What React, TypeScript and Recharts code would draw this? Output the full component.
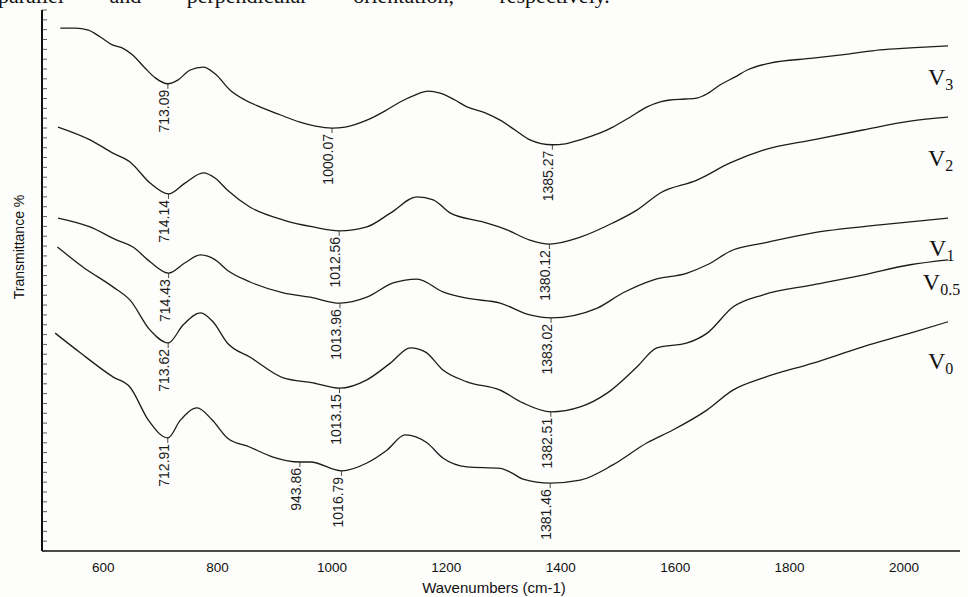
import { LineChart, Line, XAxis, YAxis, ReferenceDot } from "recharts";

// FTIR spectra, wavenumber (cm-1) vs transmittance (curves offset)
const v3Pts = [
  [525, 106.3], [551, 106.3], [574, 105.9], [595, 104.5], [616, 102.9], [633, 102.3],
  [651, 100.9], [673, 98.2], [691, 96.2], [713.09, 95.0], [731, 95.8], [752, 97.8],
  [775, 98.4], [796, 97.0], [822, 93.7], [848, 91.7], [874, 90.3], [909, 88.7],
  [944, 87.2], [971, 86.4], [1000.07, 86.0], [1023, 86.2], [1061, 87.6], [1093, 89.5],
  [1119, 91.3], [1145, 92.7], [1168, 93.5], [1189, 93.1], [1215, 91.7], [1236, 90.3],
  [1268, 89.1], [1294, 87.6], [1320, 85.6], [1346, 83.6], [1385.27, 82.6], [1408, 82.8],
  [1434, 83.6], [1469, 85.0], [1491, 86.2], [1521, 88.2], [1551, 90.3], [1574, 91.3],
  [1591, 91.7], [1617, 91.9], [1638, 92.1], [1658, 93.1], [1679, 94.8], [1705, 96.4],
  [1726, 97.8], [1766, 99.2], [1841, 100.2], [1906, 101.1], [1958, 101.9], [2011, 102.3],
  [2077, 102.7],
];

const v2Pts = [
  [521, 86.2], [577, 83.6], [617, 80.9], [647, 79.1], [682, 74.8], [714.14, 72.6],
  [743, 74.8], [775, 76.9], [796, 75.8], [817, 73.4], [857, 69.9], [915, 67.3],
  [967, 65.9], [1012.56, 65.1], [1061, 65.9], [1102, 68.7], [1149, 72.0], [1177, 71.4],
  [1207, 68.7], [1264, 66.9], [1306, 65.3], [1346, 63.2], [1380.12, 62.4], [1434, 63.8],
  [1491, 66.7], [1533, 69.3], [1574, 72.8], [1638, 75.4], [1696, 78.9], [1754, 81.5],
  [1841, 83.6], [1928, 85.6], [2011, 87.4], [2077, 88.2],
];

const v1Pts = [
  [521, 67.7], [577, 65.9], [624, 63.2], [652, 61.8], [682, 58.8], [714.43, 56.5],
  [743, 58.6], [770, 60.2], [796, 59.2], [817, 57.1], [857, 54.7], [915, 52.5],
  [962, 51.6], [1013.96, 50.4], [1061, 51.6], [1107, 54.5], [1149, 55.3], [1194, 52.7],
  [1236, 51.4], [1294, 50.4], [1346, 48.0], [1383.02, 47.4], [1464, 49.4], [1509, 52.5],
  [1561, 55.1], [1621, 56.5], [1656, 58.2], [1701, 61.2], [1754, 62.6], [1841, 64.7],
  [1958, 66.3], [2077, 67.7],
];

const v05Pts = [
  [520, 61.8], [565, 57.7], [617, 53.7], [647, 51.0], [682, 44.9], [713.62, 42.3],
  [740, 46.0], [770, 48.4], [792, 46.6], [817, 42.3], [857, 39.4], [915, 35.2],
  [967, 34.2], [1013.15, 33.1], [1061, 34.8], [1102, 38.2], [1137, 41.3], [1163, 40.5],
  [1194, 36.8], [1236, 34.4], [1294, 32.7], [1334, 30.1], [1382.51, 28.3], [1434, 29.3],
  [1481, 32.1], [1533, 37.4], [1568, 41.3], [1621, 42.3], [1656, 44.3], [1701, 49.6],
  [1754, 52.1], [1841, 54.1], [1928, 56.1], [2011, 58.2], [2077, 59.2],
];

const v0Pts = [
  [516, 44.3], [560, 40.3], [617, 35.4], [647, 33.3], [679, 26.6], [712.91, 23.0],
  [735, 26.6], [764, 29.1], [791, 26.6], [817, 23.0], [857, 21.1], [897, 19.1],
  [943.86, 18.1], [962, 18.1], [1016.79, 16.3], [1061, 17.9], [1096, 20.5], [1128, 23.6],
  [1166, 22.0], [1194, 18.9], [1236, 17.1], [1294, 16.8], [1314, 15.9], [1334, 14.6],
  [1381.46, 13.8], [1434, 14.4], [1491, 17.5], [1551, 22.0], [1596, 24.6], [1656, 28.7],
  [1701, 32.7], [1754, 35.2], [1841, 38.2], [1928, 41.5], [2011, 44.3], [2077, 46.6],
];

// annotated band minima
const peaksV3 = [713.09, 1000.07, 1385.27];
const peaksV2 = [714.14, 1012.56, 1380.12];
const peaksV1 = [714.43, 1013.96, 1383.02];
const peaksV05 = [713.62, 1013.15, 1382.51];
const peaksV0 = [712.91, 943.86, 1016.79, 1381.46];

const xTicks = [600, 800, 1000, 1200, 1400, 1600, 1800, 2000];

const toRows = (pts: number[][]) => pts.map(([wn, t]) => ({ wn, t }));

const series = [
  { id: "V3", sub: "3", rows: toRows(v3Pts), peaks: peaksV3 },
  { id: "V2", sub: "2", rows: toRows(v2Pts), peaks: peaksV2 },
  { id: "V1", sub: "1", rows: toRows(v1Pts), peaks: peaksV1 },
  { id: "V0.5", sub: "0.5", rows: toRows(v05Pts), peaks: peaksV05 },
  { id: "V0", sub: "0", rows: toRows(v0Pts), peaks: peaksV0 },
];

// where the series names sit, in chart units
const nameSpots: Record<string, [number, number]> = {
  V3: [2042, 94.8],
  V2: [2042, 78.3],
  V1: [2044, 60.0],
  "V0.5": [2033, 53.1],
  V0: [2042, 37.0],
};

const yTicks = Array.from({ length: 56 }, (_, i) => i * 2);

const sans = "'Liberation Sans', Arial, sans-serif";
const serif = "'Liberation Serif', 'Times New Roman', serif";
const ink = "#1c1c1c";

const PeakMark = ({ cx, cy, text }: any) => (
  <g>
    <line x1={cx} y1={cy} x2={cx} y2={cy + 5} stroke={ink} strokeWidth={0.8} />
    <text
      x={cx - 4}
      y={cy + 6}
      transform={`rotate(-90 ${cx - 4} ${cy + 6})`}
      textAnchor="end"
      dominantBaseline="central"
      fontFamily={sans}
      fontSize={14}
      fill={ink}
    >
      {text}
    </text>
  </g>
);

const SeriesName = ({ cx, cy, sub }: any) => (
  <text x={cx} y={cy} fontFamily={serif} fontSize={24} fill="#111">
    V
    <tspan dy={5} fontSize={16}>
      {sub}
    </tspan>
  </text>
);

export default function App() {
  return (
    <div
      style={{
        position: "absolute",
        left: 0,
        top: 0,
        width: 968,
        height: 597,
        overflow: "hidden",
        background: "#fdfdfb",
      }}
    >
      <div
        style={{
          position: "absolute",
          left: -2,
          top: -15,
          fontFamily: serif,
          fontSize: 22,
          lineHeight: "22px",
          whiteSpace: "nowrap",
          wordSpacing: 40,
          color: "#111",
        }}
      >
        parallel and perpendicular orientation, respectively.
      </div>
      <LineChart
        width={968}
        height={597}
        margin={{ top: 10, right: 8, bottom: 0, left: 42 }}
      >
        <XAxis
          dataKey="wn"
          type="number"
          domain={[493, 2098]}
          ticks={xTicks}
          allowDataOverflow
          height={46}
          tickLine={false}
          tickSize={6}
          tickMargin={5}
          axisLine={{ stroke: "#111", strokeWidth: 1.6 }}
          tick={{ fontFamily: sans, fontSize: 13.5, fill: "#111" }}
          label={{
            content: () => (
              <text
                x={494}
                y={587}
                textAnchor="middle"
                dominantBaseline="central"
                fontFamily={sans}
                fontSize={15}
                fill="#111"
              >
                Wavenumbers (cm-1)
              </text>
            ),
          }}
        />
        <YAxis
          type="number"
          domain={[0, 110]}
          ticks={yTicks}
          width={42}
          mirror
          tickFormatter={() => ""}
          tickSize={5}
          tickLine={{ stroke: "#333", strokeWidth: 0.8 }}
          axisLine={{ stroke: "#111", strokeWidth: 2 }}
          label={{
            content: () => (
              <text
                x={19}
                y={247}
                transform="rotate(-90 19 247)"
                textAnchor="middle"
                dominantBaseline="central"
                fontFamily={sans}
                fontSize={14}
                fill="#111"
              >
                Transmittance %
              </text>
            ),
          }}
        />
        {series.map((s) => (
          <Line
            key={s.id}
            data={s.rows}
            dataKey="t"
            type="monotone"
            dot={false}
            stroke={ink}
            strokeWidth={1.3}
            isAnimationActive={false}
          />
        ))}
        {series.flatMap((s) =>
          s.peaks.map((wn) => {
            const row = s.rows.find((r) => r.wn === wn);
            return (
              <ReferenceDot
                key={s.id + wn}
                x={wn}
                y={row ? row.t : 0}
                r={0}
                ifOverflow="visible"
                shape={(p: any) => <PeakMark cx={p.cx} cy={p.cy} text={wn.toFixed(2)} />}
              />
            );
          })
        )}
        {series.map((s) => (
          <ReferenceDot
            key={"name" + s.id}
            x={nameSpots[s.id][0]}
            y={nameSpots[s.id][1]}
            r={0}
            ifOverflow="visible"
            shape={(p: any) => <SeriesName cx={p.cx} cy={p.cy} sub={s.sub} />}
          />
        ))}
      </LineChart>
    </div>
  );
}
